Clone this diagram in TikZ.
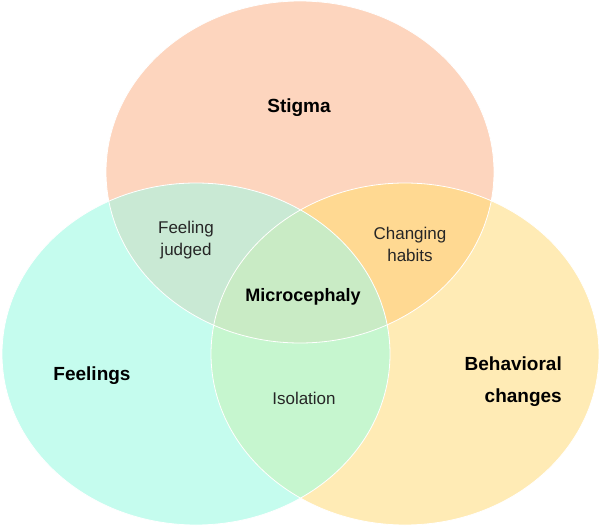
\documentclass[tikz,border=0pt]{standalone}
\usepackage{fontspec}
\setmainfont{Liberation Sans}
\definecolor{cTop}{HTML}{FDD5BE}
\definecolor{cLeft}{HTML}{C5FCEE}
\definecolor{cRight}{HTML}{FFEBB5}
\definecolor{cTL}{HTML}{C9E9D4}
\definecolor{cTR}{HTML}{FFD992}
\definecolor{cLR}{HTML}{C6F6CF}
\definecolor{cC}{HTML}{C9EBC5}
\definecolor{cTxt}{HTML}{262626}
\tikzset{
  boldlbl/.style={font=\bfseries\fontsize{19}{32}\selectfont, text=black, inner sep=0pt},
  reglbl/.style={font=\fontsize{17}{22}\selectfont, text=cTxt, inner sep=0pt, align=center},
  rim/.style={draw=white, line width=0.8pt}
}
\begin{document}
\begin{tikzpicture}[x=1pt,y=-1pt]
\useasboundingbox (0,0) rectangle (600,527);
\def\topE{(300,172) ellipse [x radius=194pt, y radius=171pt]}
\def\leftE{(196,354) ellipse [x radius=194pt, y radius=171pt]}
\def\rightE{(405,354) ellipse [x radius=194pt, y radius=171pt]}
% single regions
\fill[cTop] \topE;
\fill[cLeft] \leftE;
\fill[cRight] \rightE;
% pairwise overlaps
\begin{scope}
  \clip \topE;
  \fill[cTL] \leftE;
  \fill[cTR] \rightE;
\end{scope}
\begin{scope}
  \clip \leftE;
  \fill[cLR] \rightE;
\end{scope}
% triple overlap
\begin{scope}
  \clip \topE;
  \clip \leftE;
  \fill[cC] \rightE;
\end{scope}
% rims
\draw[rim] \topE;
\draw[rim] \leftE;
\draw[rim] \rightE;
% labels
\node[boldlbl] (stigma) at (299,108) {Stigma};
\node[boldlbl] (feelings) at (92,376) {Feelings};
\node[boldlbl, align=right, anchor=east] (behav) at (562,382) {Behavioral\\changes};
\node[boldlbl, font=\bfseries\fontsize{18}{22}\selectfont] (micro) at (303,297) {Microcephaly};
\node[reglbl] (judged) at (186,240) {Feeling\\judged};
\node[reglbl] (habits) at (410,244) {Changing\\habits};
\node[reglbl] (isol) at (304,398) {Isolation};
\end{tikzpicture}
\end{document}
